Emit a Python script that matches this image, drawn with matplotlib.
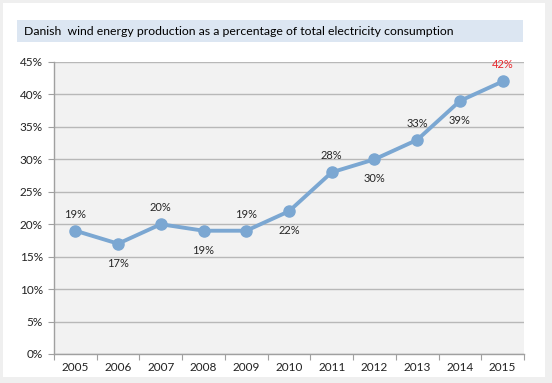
import matplotlib.pyplot as plt
from matplotlib.patches import Rectangle

years = ["2005", "2006", "2007", "2008", "2009", "2010", "2011", "2012", "2013", "2014", "2015"]
values = [19, 17, 20, 19, 19, 22, 28, 30, 33, 39, 42]
label_pos = ["above", "below", "above", "below", "above", "below", "above", "below", "above", "below", "above"]
title = "Danish  wind energy production as a percentage of total electricity consumption"

plt.rcParams['font.family'] = ['Lato', 'DejaVu Sans']

W, H = 552, 383
fig = plt.figure(figsize=(W/100, H/100), dpi=100)
fig.patch.set_facecolor('#efefef')
# white card
fig.add_artist(Rectangle((3/W, 1-377/H), (545-3)/W, (377-3)/H, transform=fig.transFigure,
                         facecolor='white', edgecolor='none', zorder=-5))

# title box
fig.add_artist(Rectangle((17/W, 1-42/H), (523-17)/W, 22/H, transform=fig.transFigure,
                         facecolor='#dce6f2', edgecolor='none'))
fig.text(24/W, 1-31.5/H, title, fontsize=8.85, va='center', ha='left', color='black')

ax = fig.add_axes([54/W, 1-354/H, (524-54)/W, (354-62)/H])
ax.set_facecolor('#f2f2f2')
x = list(range(len(years)))
ax.plot(x, values, color='#7ba7d2', linewidth=2.8, marker='o', markersize=8, zorder=3)
ax.set_xlim(-0.5, len(years)-0.5)
ax.set_ylim(0, 45)
ax.set_yticks(range(0, 46, 5))
ax.set_yticklabels([f"{v}%" for v in range(0, 46, 5)], fontsize=8.5, color='#222222')
ax.yaxis.grid(True, color='#b8b8b8', linewidth=1.0)
ax.set_axisbelow(True)
ax.set_xticks([i - 0.5 for i in range(len(years)+1)])
ax.set_xticklabels([])
ax.set_xticks(x, minor=True)
ax.set_xticklabels(years, minor=True, fontsize=8.5, color='#222222')
ax.tick_params(axis='x', which='minor', length=0, pad=6)
ax.tick_params(axis='x', which='major', length=4, color='#a0a0a0', direction='out')
ax.tick_params(axis='y', length=4, color='#a0a0a0', pad=4)
for s in ['top', 'right']:
    ax.spines[s].set_visible(False)
for s in ['left', 'bottom']:
    ax.spines[s].set_color('#a0a0a0')
    ax.spines[s].set_linewidth(1.0)

for i, (v, p) in enumerate(zip(values, label_pos)):
    color = '#e8262b' if i == len(values)-1 else '#262626'
    off = 12 if p == 'above' else -14
    ax.annotate(f"{v}%", (i, v), xytext=(0, off), textcoords='offset points',
                ha='center', va='center', fontsize=8, color=color)

fig.savefig('out.png', dpi=100, facecolor=fig.get_facecolor())
